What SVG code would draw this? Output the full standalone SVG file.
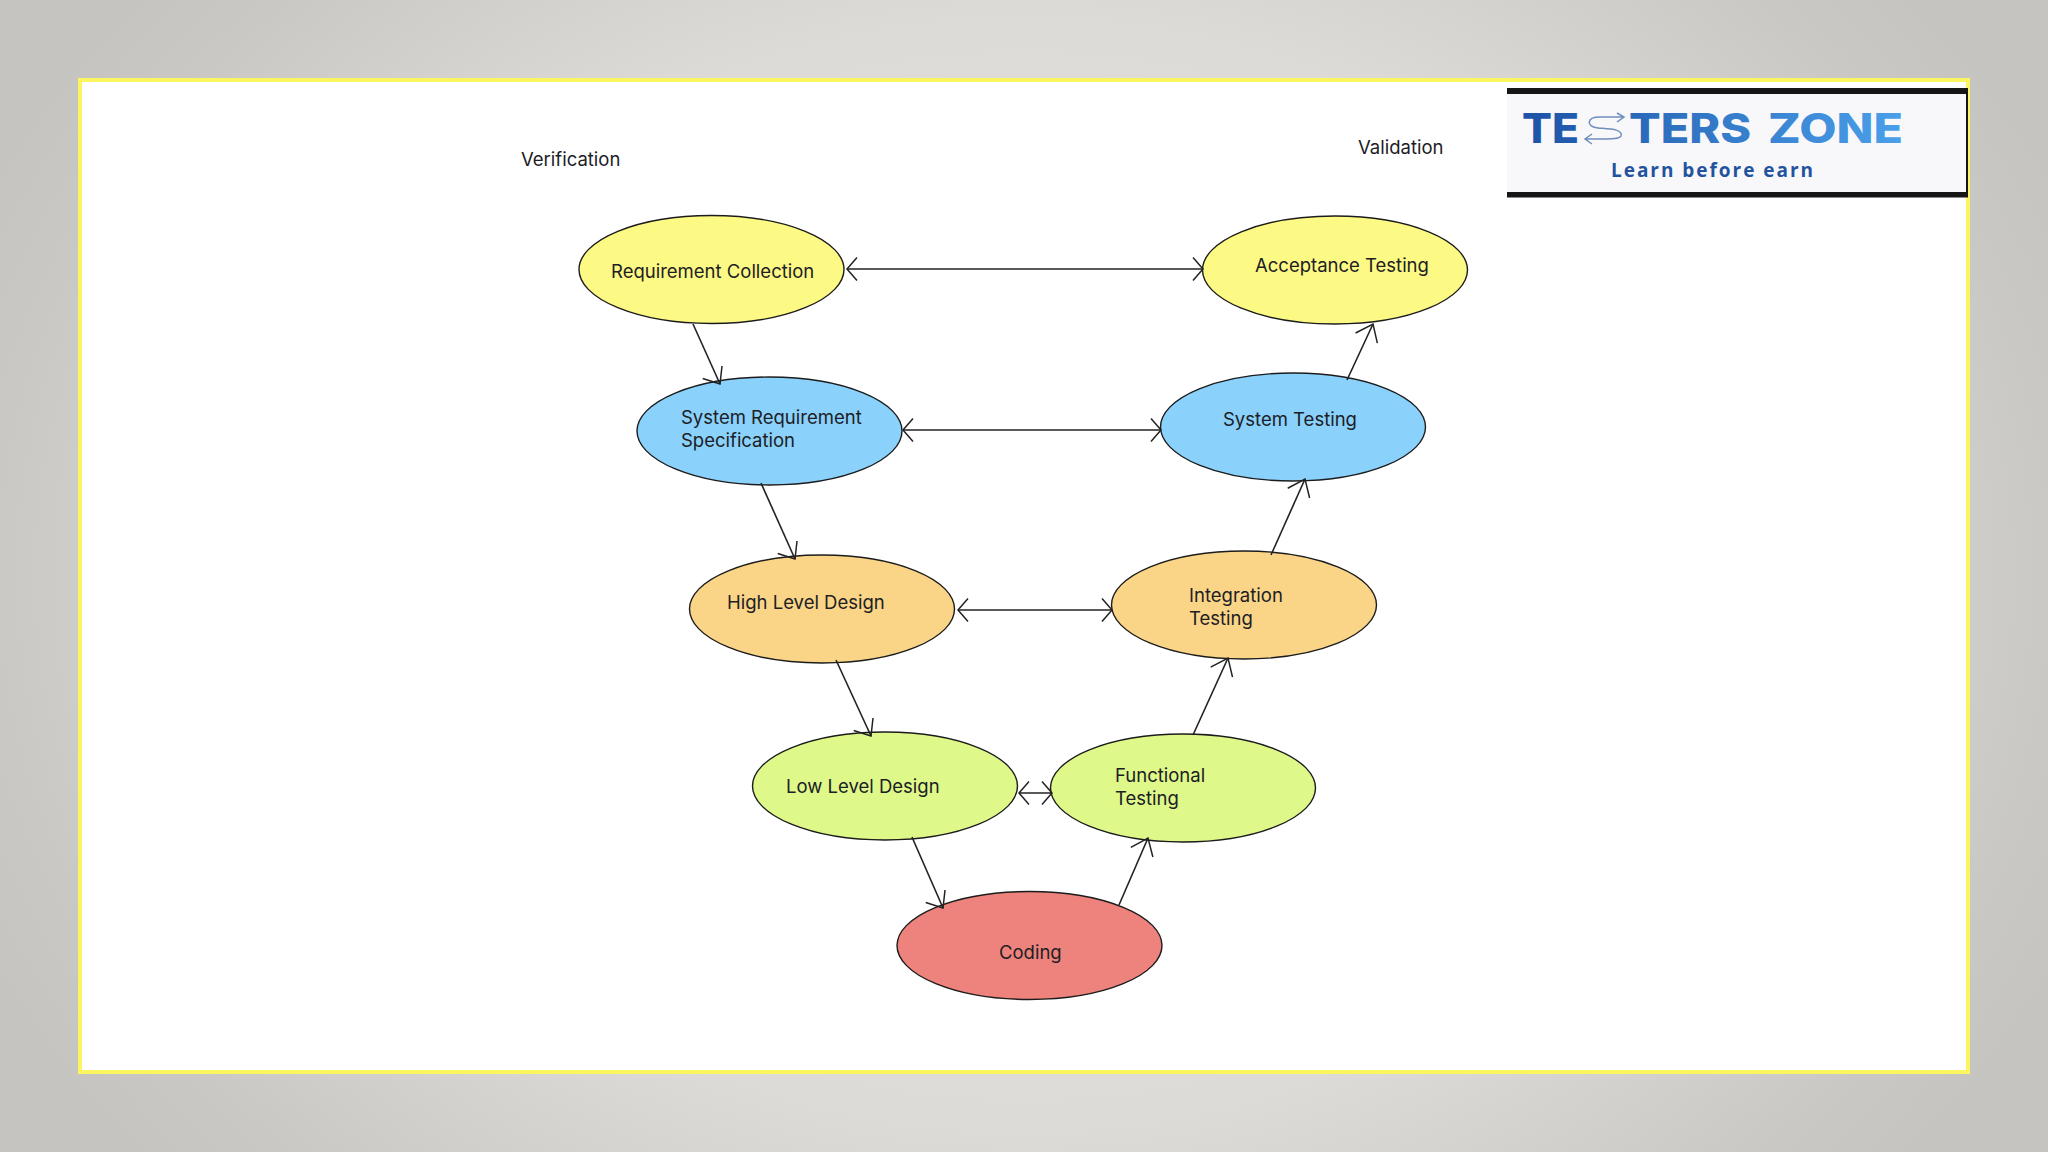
<svg xmlns="http://www.w3.org/2000/svg" width="2048" height="1152" viewBox="0 0 2048 1152">
<defs>
<radialGradient id="bg" gradientUnits="userSpaceOnUse" cx="1024" cy="576" r="1150" gradientTransform="translate(0 115) scale(1 0.8)">
<stop offset="0" stop-color="#e6e5e1"/><stop offset="0.6" stop-color="#dcdbd7"/><stop offset="0.9" stop-color="#c9c8c5"/><stop offset="1" stop-color="#c5c4c1"/>
</radialGradient>
<linearGradient id="logo" gradientUnits="userSpaceOnUse" x1="1522" y1="0" x2="1903" y2="0">
<stop offset="0" stop-color="#1d52a6"/><stop offset="1" stop-color="#4aa0ea"/>
</linearGradient>
<marker id="ah" viewBox="-15 -14 17 28" refX="0" refY="0" markerWidth="17" markerHeight="28" markerUnits="userSpaceOnUse" orient="auto-start-reverse">
<path d="M-10,-11.500 L0,0 L-10,11.500" fill="none" stroke="#222" stroke-width="1.500"/>
</marker>
<marker id="dn" viewBox="-18 -16 22 32" refX="0" refY="0" markerWidth="22" markerHeight="32" markerUnits="userSpaceOnUse" orient="57">
<path d="M-14,-11.500 L0,0 L-14,11.500" fill="none" stroke="#222" stroke-width="1.500"/>
</marker>
<marker id="up" viewBox="-18 -16 22 32" refX="0" refY="0" markerWidth="22" markerHeight="32" markerUnits="userSpaceOnUse" orient="auto">
<path d="M-15.500,-12 L0,0 L-15.500,12" fill="none" stroke="#222" stroke-width="1.500"/>
</marker>
<style>
.n{stroke:#1c1c1c;stroke-width:1.400}
.t{font-family:Inter,"Liberation Sans",sans-serif;font-size:18.500px;fill:#1c2024}
.c{stroke:#222;stroke-width:1.600;fill:none;marker-end:url(#ah)}
.d{marker-end:url(#dn)}
.p{marker-end:url(#up)}
.b{marker-start:url(#ah)}
.y{fill:#fdf985}.u{fill:#8ad1fb}.o{fill:#fad587}.g{fill:#def88a}.r{fill:#ee827c}
.lg{font-family:Inter,"Liberation Sans",sans-serif;font-weight:800;font-size:41px;fill:url(#logo)}
.ar{fill:none;stroke:#6e8fbd;stroke-width:1.500}
</style>
</defs>
<rect width="2048" height="1152" fill="url(#bg)"/>
<rect x="80" y="80" width="1888" height="992" fill="#fff" stroke="#fbf65f" stroke-width="4"/>
<g id="logo-block">
<rect x="1507" y="88" width="459" height="108" fill="#f8f8fb"/>
<rect x="1507" y="88" width="461" height="6" fill="#161616"/>
<rect x="1507" y="192" width="461" height="5.500" fill="#161616"/>
<rect x="1966" y="88" width="2" height="108" fill="#161616"/>
<text class="lg" x="1522" y="143" textLength="57" lengthAdjust="spacingAndGlyphs">TE</text>
<path class="ar" d="M1624,117 H1600 C1586,117 1586,127 1598,128 C1610,129 1623,129 1621,136 C1620,139 1612,139 1606,139 H1586 M1617,113 L1624,117 L1617,122 M1592,134 L1585,139 L1592,144"/>
<text class="lg" x="1629" y="143" textLength="122" lengthAdjust="spacingAndGlyphs">TERS</text>
<text class="lg" x="1768" y="143" textLength="135" lengthAdjust="spacingAndGlyphs">ZONE</text>
<text x="1611" y="177" textLength="202" style="font-family:'Open Sans','Liberation Sans',sans-serif;font-weight:700;font-size:19px;fill:#23539f">Learn before earn</text>
</g>
<text id="verification" class="t" x="521" y="166">Verification</text>
<text id="validation" class="t" x="1358" y="154">Validation</text>
<g id="requirement-collection"><ellipse class="n y" cx="711.500" cy="269.500" rx="132.500" ry="54"/><text class="t" x="611" y="278">Requirement Collection</text></g>
<g id="system-requirement"><ellipse class="n u" cx="769.500" cy="431" rx="132.500" ry="54"/><text class="t" x="681" y="424">System Requirement</text><text class="t" x="681" y="447">Specification</text></g>
<g id="high-level-design"><ellipse class="n o" cx="822" cy="609" rx="132.500" ry="54"/><text class="t" x="727" y="609">High Level Design</text></g>
<g id="low-level-design"><ellipse class="n g" cx="885" cy="786" rx="132.500" ry="54"/><text class="t" x="786" y="793">Low Level Design</text></g>
<g id="coding"><ellipse class="n r" cx="1029.500" cy="945.500" rx="132.500" ry="54"/><text class="t" x="999" y="958.500">Coding</text></g>
<g id="functional-testing"><ellipse class="n g" cx="1183" cy="788" rx="132.500" ry="54"/><text class="t" x="1115" y="782">Functional</text><text class="t" x="1115" y="805">Testing</text></g>
<g id="integration-testing"><ellipse class="n o" cx="1244" cy="605" rx="132.500" ry="54"/><text class="t" x="1189" y="602">Integration</text><text class="t" x="1189" y="625">Testing</text></g>
<g id="system-testing"><ellipse class="n u" cx="1293" cy="427" rx="132.500" ry="54"/><text class="t" x="1223" y="426">System Testing</text></g>
<g id="acceptance-testing"><ellipse class="n y" cx="1335" cy="270" rx="132.500" ry="54"/><text class="t" x="1255" y="272">Acceptance Testing</text></g>
<g id="connectors">
<line class="c b" x1="847" y1="269" x2="1203" y2="269"/>
<line class="c b" x1="903" y1="430" x2="1161" y2="430"/>
<line class="c b" x1="958" y1="610" x2="1112" y2="610"/>
<line class="c b" x1="1019" y1="793" x2="1052" y2="793"/>
<line class="c d" x1="693" y1="324" x2="720" y2="384"/>
<line class="c d" x1="761" y1="483" x2="795" y2="559"/>
<line class="c d" x1="836" y1="660" x2="871" y2="736"/>
<line class="c d" x1="912" y1="837" x2="943" y2="908"/>
<line class="c p" x1="1119" y1="905" x2="1148" y2="838"/>
<line class="c p" x1="1193" y1="735" x2="1228" y2="658"/>
<line class="c p" x1="1271" y1="555" x2="1305" y2="479"/>
<line class="c p" x1="1347" y1="380" x2="1373" y2="324"/>
</g>
</svg>
